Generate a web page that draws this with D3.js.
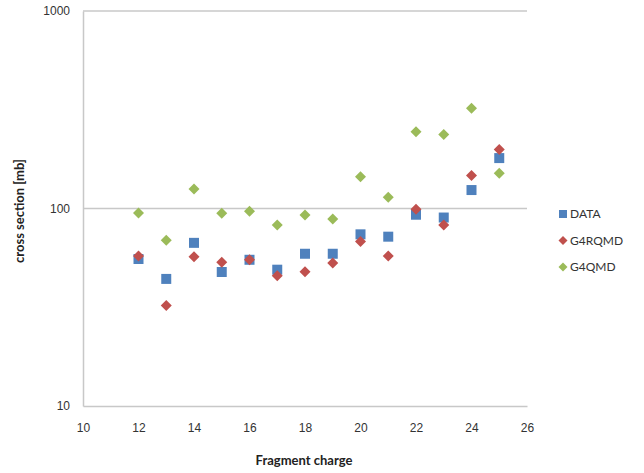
<!DOCTYPE html>
<html>
<head>
<meta charset="utf-8">
<script src="https://cdn.jsdelivr.net/npm/d3@7"></script>
<style>
  body { margin: 0; background: #fff; }
  svg { font-family: Lato, "Open Sans", sans-serif; }
</style>
</head>
<body>
<div id="chart"></div>
<script>
var charges = [12, 13, 14, 15, 16, 17, 18, 19, 20, 21, 22, 23, 24, 25];
var dataValues = [55.5, 44, 67, 47.7, 55, 49, 59, 59, 74, 72, 93, 90, 124, 180];
var rqmdValues = [57.5, 32.3, 57, 53.4, 55, 45.7, 47.9, 53, 68, 57.5, 99, 82.5, 147, 199];
var qmdValues = [95, 69, 125.6, 94.5, 96.8, 82.5, 92.7, 88.5, 145, 114, 245, 237, 322, 151];
var xTicks = [10, 12, 14, 16, 18, 20, 22, 24, 26];
var yTicks = [10, 100, 1000];
var seriesNames = ['DATA', 'G4RQMD', 'G4QMD'];

var width = 644, height = 473,
    margin = {left: 83, top: 11, right: 117, bottom: 67};

var series = [
    {name: seriesNames[0], values: dataValues, color: '#4F81BD', shape: 'square'},
    {name: seriesNames[1], values: rqmdValues, color: '#C0504D', shape: 'diamond'},
    {name: seriesNames[2], values: qmdValues, color: '#9BBB59', shape: 'diamond'}
];

var svg = d3.select('#chart').append('svg')
    .attr('width', width)
    .attr('height', height);

var x = d3.scaleLinear()
    .domain([10, 26])
    .range([margin.left, width - margin.right]);

var y = d3.scaleLog()
    .domain([10, 1000])
    .range([height - margin.bottom, margin.top]);

// gridlines
svg.append('g')
    .selectAll('line')
    .data(yTicks.slice(1))
    .enter()
    .append('line')
    .attr('x1', x(10))
    .attr('x2', x(26))
    .attr('y1', function(d) { return y(d); })
    .attr('y2', function(d) { return y(d); })
    .attr('stroke', '#c8c8c8')
    .attr('stroke-width', 1.5);

var xAxis = d3.axisBottom(x).tickValues(xTicks).tickSize(0).tickPadding(17),
    yAxis = d3.axisLeft(y).tickValues(yTicks).tickSize(0).tickPadding(13)
        .tickFormat(d3.format('d'));

var xx = svg.append('g')
    .attr('transform', 'translate(0,' + y(10) + ')')
    .call(xAxis);
var yy = svg.append('g')
    .attr('transform', 'translate(' + x(10) + ',0)')
    .call(yAxis);

[xx, yy].forEach(function(ax) {
    ax.select('.domain').attr('stroke', '#c8c8c8').attr('stroke-width', 1.5);
    ax.selectAll('text')
        .style('font-size', '12px')
        .attr('fill', '#333');
});

svg.append('text')
    .attr('x', 304)
    .attr('y', 465)
    .attr('text-anchor', 'middle')
    .style('font-size', '13px')
    .style('font-weight', 'bold')
    .attr('fill', '#222')
    .text('Fragment charge');

svg.append('text')
    .attr('transform', 'translate(24,211) rotate(-90)')
    .attr('text-anchor', 'middle')
    .style('font-size', '13px')
    .style('font-weight', 'bold')
    .attr('fill', '#222')
    .text('cross section [mb]');

var symbolPath = function(shape, size) {
    var h = size / 2;
    if (shape === 'square')
        return 'M' + (-h) + ',' + (-h) + 'h' + size + 'v' + size + 'h' + (-size) + 'Z';
    return 'M0,' + (-h) + 'L' + h + ',0L0,' + h + 'L' + (-h) + ',0Z';
};

series.forEach(function(s) {
    svg.append('g')
        .selectAll('path')
        .data(s.values)
        .enter()
        .append('path')
        .attr('transform', function(d, i) { return 'translate(' + x(charges[i]) + ',' + y(d) + ')'; })
        .attr('d', symbolPath(s.shape, s.shape === 'square' ? 10 : 11))
        .attr('fill', s.color);
});

var legend = svg.append('g')
    .selectAll('.legend')
    .data(series)
    .enter()
    .append('g')
    .attr('class', 'legend')
    .attr('transform', function(d, i) { return 'translate(563,' + (214 + i * 26.5) + ')'; });

legend.append('path')
    .attr('d', function(d) { return symbolPath(d.shape, d.shape === 'square' ? 8 : 9); })
    .attr('fill', function(d) { return d.color; });

legend.append('text')
    .attr('x', 7)
    .attr('dy', '.35em')
    .style('font-size', '12px')
    .attr('fill', '#333')
    .text(function(d) { return d.name; });
</script>
</body>
</html>
